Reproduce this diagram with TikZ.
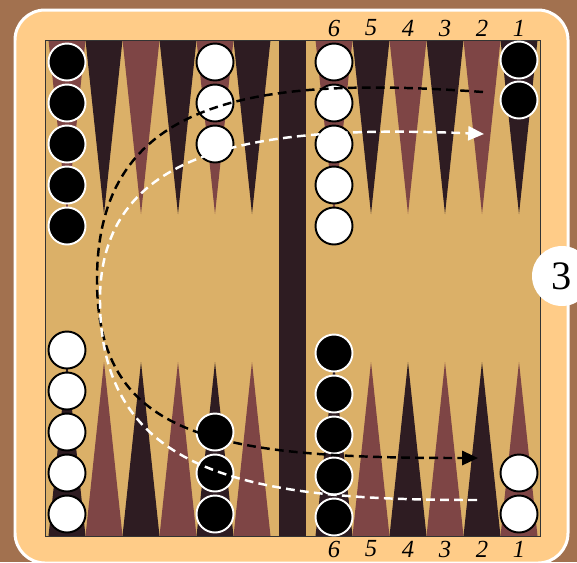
\documentclass[tikz,border=0pt]{standalone}
\usepackage{tikz}
\usetikzlibrary{arrows.meta, calc}
\usepackage{xcolor}
\usepackage{fontspec}
\setmainfont{Liberation Serif}
\definecolor{woodBrown}{RGB}{162,113,79}
\definecolor{framePeach}{RGB}{255,204,136}
\definecolor{boardTan}{RGB}{219,176,104}
\definecolor{pointDark}{RGB}{46,28,34}
\definecolor{pointRed}{RGB}{126,69,69}
\tikzset{
    >=Stealth,
    % Checkers
    chkBlack/.style={circle, fill=black, draw=white, line width=1.1pt, minimum size=0.74cm, inner sep=0pt},
    chkWhite/.style={circle, fill=white, draw=black, line width=1.1pt, minimum size=0.74cm, inner sep=0pt},
    % Labels
    num/.style={font=\fontsize{14}{16}\selectfont\itshape, inner sep=0pt},
    cube/.style={circle, fill=white, minimum size=1.2cm, inner sep=0pt, font=\fontsize{23}{27}\selectfont},
    % Moves
    move/.style={line width=1.4pt, dash pattern=on 5pt off 3pt, -{Triangle[length=9pt, width=8pt]}}
}

\begin{document}
\begin{tikzpicture}[x=0.02cm, y=-0.02cm]

\clip (0,0) rectangle (577,562);
\fill[woodBrown] (0,0) rectangle (577,562);

% Frame
\draw[white, line width=0.06cm, fill=framePeach, rounded corners=0.6cm] (15,10) rectangle (568,563);

% Board and points
\fill[boardTan] (45,40) rectangle (540,536);
\foreach \x/\c in {67/pointRed, 104/pointDark, 141/pointRed, 178/pointDark, 215/pointRed, 252/pointDark,
                   334/pointRed, 371/pointDark, 408/pointRed, 445/pointDark, 482/pointRed, 519/pointDark}
    \fill[\c] (\x-18.5,40) -- (\x+18.5,40) -- (\x,214) -- cycle;
\foreach \x/\c in {67/pointDark, 104/pointRed, 141/pointDark, 178/pointRed, 215/pointDark, 252/pointRed,
                   334/pointDark, 371/pointRed, 408/pointDark, 445/pointRed, 482/pointDark, 519/pointRed}
    \fill[\c] (\x-18.5,536) -- (\x+18.5,536) -- (\x,362) -- cycle;
\fill[pointDark] (279,40) rectangle (306,536);
\draw[black!80, line width=0.5pt] (45,40) rectangle (540,536);

% Point numbers
\foreach \n/\x in {6/334, 5/371, 4/408, 3/445, 2/482, 1/519} {
    \node[num] (top\n) at (\x,28) {\n};
    \node[num] (bot\n) at (\x,549) {\n};
}

% Checkers, top half
\foreach \i in {1,...,5} \node[chkBlack] (tlBlack\i) at (67,21+41*\i) {};
\foreach \i in {1,...,3} \node[chkWhite] (tmWhite\i) at (215,21+41*\i) {};
\foreach \i in {1,...,5} \node[chkWhite] (trWhite\i) at (334,21+41*\i) {};
\foreach \i in {1,2} \node[chkBlack] (tcBlack\i) at (519,20+40*\i) {};

% Checkers, bottom half
\foreach \i in {1,...,5} \node[chkWhite] (blWhite\i) at (67,555-41*\i) {};
\foreach \i in {1,...,3} \node[chkBlack] (bmBlack\i) at (215,555-41*\i) {};
\foreach \i in {1,...,5} \node[chkBlack] (brBlack\i) at (334,558-41*\i) {};
\foreach \i in {1,2} \node[chkWhite] (bcWhite\i) at (519,555-41*\i) {};

% Doubling cube
\node[cube] (cube) at (562,276) {3};

% Moves
\coordinate (blackFrom) at (483,92);
\coordinate (blackTurn) at (97,280);
\coordinate (blackTo) at (478,458);
\coordinate (whiteFrom) at (477,500);
\coordinate (whiteTurn) at (100,300);
\coordinate (whiteTo) at (484,134);

\draw[move, black] (blackFrom) .. controls (250,75) and (97,100) .. (blackTurn)
    .. controls (97,440) and (220,458) .. (blackTo);
\draw[move, white] (whiteFrom) .. controls (260,500) and (100,480) .. (whiteTurn)
    .. controls (100,150) and (250,124) .. (whiteTo);

\end{tikzpicture}
\end{document}
